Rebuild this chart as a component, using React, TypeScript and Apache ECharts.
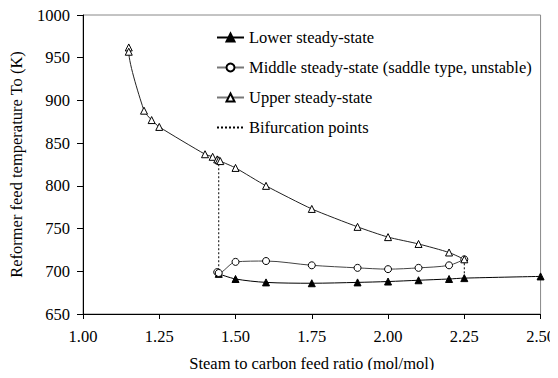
import React, { useEffect, useRef } from "react";
import * as echarts from "echarts";

const xTicks = [1.0, 1.25, 1.5, 1.75, 2.0, 2.25, 2.5];
const yTicks = [650, 700, 750, 800, 850, 900, 950, 1000];

const lowerX = [1.445, 1.5, 1.6, 1.75, 1.9, 2.0, 2.1, 2.2, 2.25, 2.5];
const lowerY = [697, 691, 687, 686, 687, 688, 689.5, 691, 692, 694];

const middleX = [1.44, 1.445, 1.5, 1.6, 1.75, 1.9, 2.0, 2.1, 2.2, 2.25];
const middleY = [699, 698, 711, 712, 707, 704, 702.5, 704, 707, 714];

const upperX = [1.15, 1.15, 1.2, 1.225, 1.25, 1.4, 1.425, 1.44, 1.445, 1.45, 1.5, 1.6, 1.75, 1.9, 2.0, 2.1, 2.2, 2.25];
const upperY = [962, 957, 888, 877, 869, 837, 834, 831, 830, 829, 821, 800, 773, 752, 740, 732, 722, 714];

const bif1X = [1.445, 1.445];
const bif1Y = [830, 697];
const bif2X = [2.25, 2.25];
const bif2Y = [714, 692];

const zip = (xs: number[], ys: number[]) => xs.map((x, i) => [x, ys[i]]);

const FONT = "Liberation Serif";
const FS = 16.5;
const TS = { fontFamily: FONT, fontSize: FS, color: "#000" };

export default function App() {
  const ref = useRef<HTMLDivElement>(null);
  useEffect(() => {
    if (!ref.current) return;
    const chart = echarts.init(ref.current, null, { renderer: "svg" });
    chart.setOption({
      animation: false,
      textStyle: { fontFamily: FONT, fontSize: FS, color: "#000" },
      grid: {
        left: 81,
        right: 15,
        top: 15,
        bottom: 64,
        show: true,
        borderColor: "#888",
        borderWidth: 1,
        backgroundColor: "transparent",
      },
      legend: {
        orient: "vertical",
        left: 211,
        top: 24,
        itemWidth: 27,
        itemHeight: 10,
        itemGap: 13,
        textStyle: TS,
        data: [
          { name: "Lower steady-state", textStyle: TS },
          { name: "Middle steady-state (saddle type, unstable)", lineStyle: { color: "#777" }, textStyle: TS },
          { name: "Upper steady-state", lineStyle: { color: "#777" }, textStyle: TS },
          { name: "Bifurcation points", itemStyle: { opacity: 0 }, textStyle: TS },
        ],
      },
      xAxis: {
        type: "value",
        min: 1.0,
        max: 2.5,
        interval: 0.25,
        name: "Steam to carbon feed ratio (mol/mol)",
        nameLocation: "middle",
        nameGap: 41,
        nameTextStyle: TS,
        axisLine: { lineStyle: { color: "#000", width: 1 } },
        axisTick: { show: true, inside: false, length: 5, lineStyle: { color: "#000" } },
        axisLabel: {
          ...TS,
          margin: 14,
          formatter: (v: number) => v.toFixed(2),
        },
        splitLine: { show: false },
      },
      yAxis: {
        type: "value",
        min: 650,
        max: 1000,
        interval: 50,
        name: "Reformer feed temperature To (K)",
        nameLocation: "middle",
        nameGap: 58,
        nameTextStyle: TS,
        axisLine: { show: true, lineStyle: { color: "#000", width: 1 } },
        axisTick: { show: true, inside: false, length: 6, lineStyle: { color: "#000" } },
        axisLabel: {
          ...TS,
          margin: 13,
          formatter: (v: number) => String(v),
        },
        splitLine: { show: false },
      },
      series: [
        {
          name: "Lower steady-state",
          type: "line",
          data: zip(lowerX, lowerY),
          symbol: "triangle",
          symbolSize: 7,
          smooth: 0.3,
          lineStyle: { color: "#000", width: 1 },
          itemStyle: { color: "#000", borderColor: "#000", borderWidth: 1 },
        },
        {
          name: "Middle steady-state (saddle type, unstable)",
          type: "line",
          data: zip(middleX, middleY),
          symbol: "circle",
          symbolSize: 7,
          showAllSymbol: true,
          smooth: 0.3,
          lineStyle: { color: "#444", width: 1 },
          itemStyle: { color: "#fff", borderColor: "#000", borderWidth: 1 },
        },
        {
          name: "Upper steady-state",
          type: "line",
          data: zip(upperX, upperY),
          symbol: "triangle",
          symbolSize: 7,
          showAllSymbol: true,
          smooth: 0.2,
          lineStyle: { color: "#222", width: 1 },
          itemStyle: { color: "#fff", borderColor: "#000", borderWidth: 1 },
        },
        {
          name: "Bifurcation points",
          type: "line",
          data: zip(bif1X, bif1Y),
          symbol: "none",
          lineStyle: { color: "#000", width: 1, type: [2, 2] },
          itemStyle: { color: "#000" },
          z: 1,
        },
        {
          name: "Bifurcation points",
          type: "line",
          data: zip(bif2X, bif2Y),
          symbol: "none",
          lineStyle: { color: "#000", width: 1, type: [2, 2] },
          itemStyle: { color: "#000" },
          z: 1,
        },
      ],
    });
    return () => chart.dispose();
  }, []);
  return <div ref={ref} style={{ width: 558, height: 378, margin: -8 }} />;
}
